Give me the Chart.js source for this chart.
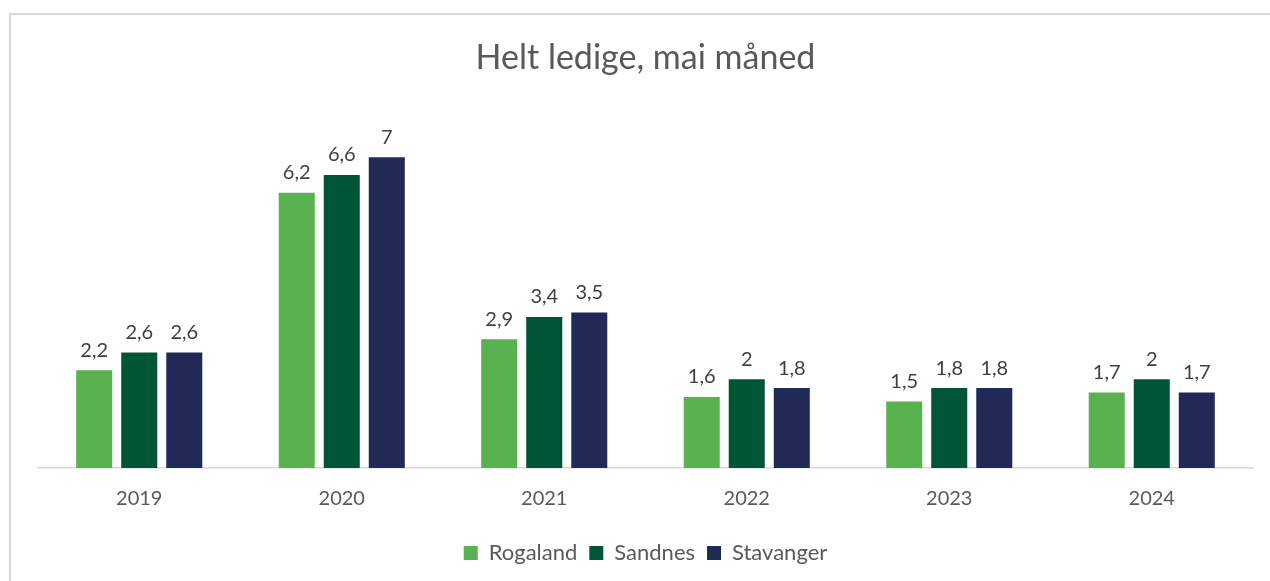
<!DOCTYPE html>
<html>
<head>
<meta charset="utf-8">
<script src="https://cdn.jsdelivr.net/npm/chart.js@4"></script>
<style>
  html, body { margin: 0; padding: 0; background: #fff; overflow: hidden; }
  #frame { position: absolute; left: 9px; top: 13px; width: 1300px; height: 620px; border: 2px solid #d9d9d9; }
  #wrap { position: absolute; left: 0; top: 0; width: 1270px; height: 581px; }
</style>
</head>
<body>
<div id="frame"></div>
<div id="wrap"><canvas id="myChart"></canvas></div>
<script>
const years = ['2019', '2020', '2021', '2022', '2023', '2024'];
const rogaland = [2.2, 6.2, 2.9, 1.6, 1.5, 1.7];
const sandnes = [2.6, 6.6, 3.4, 2, 1.8, 2];
const stavanger = [2.6, 7, 3.5, 1.8, 1.8, 1.7];

const fontFam = 'Lato, "Open Sans", sans-serif';

// labels over the bars, decimal comma like the original
const barLabels = {
    id: 'barLabels',
    afterDatasetsDraw(chart) {
        const c = chart.ctx;
        c.save();
        c.font = '20px ' + fontFam;
        c.fillStyle = '#404040';
        c.textAlign = 'center';
        c.textBaseline = 'bottom';
        chart.data.datasets.forEach((ds, i) => {
            chart.getDatasetMeta(i).data.forEach((bar, j) => {
                c.fillText(String(ds.data[j]).replace('.', ','), bar.x, bar.y - 10);
            });
        });
        c.restore();
    }
};

const ctx = document.getElementById('myChart');

new Chart(ctx, {
    type: 'bar',
    data: {
        labels: years,
        datasets: [{
            label: 'Rogaland',
            data: rogaland,
            backgroundColor: '#5ab14f'
        }, {
            label: 'Sandnes',
            data: sandnes,
            backgroundColor: '#005535'
        }, {
            label: 'Stavanger',
            data: stavanger,
            backgroundColor: '#212a57'
        }]
    },
    options: {
        responsive: true,
        maintainAspectRatio: false,
        animation: false,
        categoryPercentage: 0.667,
        barPercentage: 0.8,
        layout: {
            padding: { left: 38, right: 17, top: 0, bottom: 7 }
        },
        scales: {
            x: {
                grid: { display: false, drawTicks: false },
                border: { color: '#d9d9d9', width: 1.5 },
                ticks: { color: '#595959', font: { size: 20, family: fontFam }, padding: 19 }
            },
            y: {
                display: false,
                min: 0,
                max: 8
            }
        },
        plugins: {
            title: {
                display: true,
                text: 'Helt ledige, mai måned',
                color: '#595959',
                font: { size: 34, weight: 'normal', family: fontFam },
                padding: { top: 38, bottom: 34 }
            },
            legend: {
                position: 'bottom',
                labels: {
                    boxWidth: 14,
                    boxHeight: 14,
                    padding: 12,
                    color: '#595959',
                    font: { size: 22, family: fontFam }
                }
            },
            tooltip: { enabled: false }
        }
    },
    plugins: [barLabels]
});
</script>
</body>
</html>
